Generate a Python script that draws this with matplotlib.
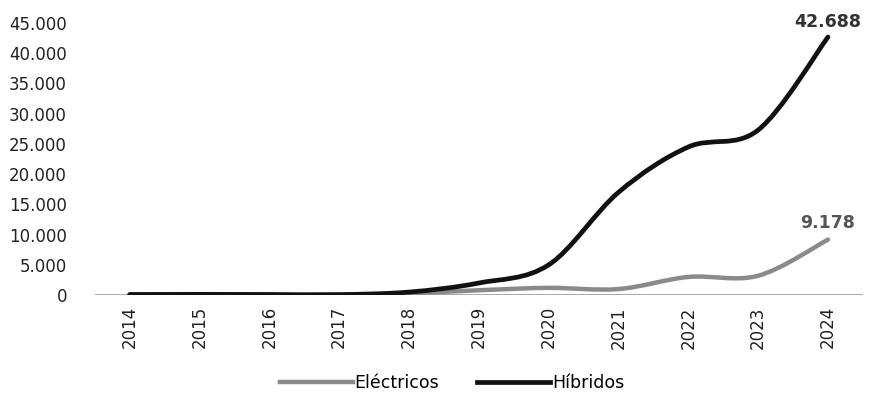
import numpy as np
import matplotlib.pyplot as plt
from matplotlib.path import Path
from matplotlib.patches import PathPatch
from matplotlib.lines import Line2D
from matplotlib.ticker import FuncFormatter

years = [2014, 2015, 2016, 2017, 2018, 2019, 2020, 2021, 2022, 2023, 2024]
electricos = [30, 40, 40, 60, 300, 800, 1200, 1000, 3000, 3200, 9178]
hibridos = [100, 120, 100, 80, 500, 2000, 5000, 17000, 24500, 27300, 42688]


def smooth_path(xs, ys, t=1/6):
    # bezier path through the points, like a smoothed excel line
    xs = np.asarray(xs, float)
    ys = np.asarray(ys, float)
    verts = [(xs[0], ys[0])]
    codes = [Path.MOVETO]
    n = len(xs)
    for i in range(n - 1):
        x0, y0 = (xs[i - 1], ys[i - 1]) if i > 0 else (xs[i], ys[i])
        x3, y3 = (xs[i + 2], ys[i + 2]) if i + 2 < n else (xs[i + 1], ys[i + 1])
        c1 = (xs[i] + (xs[i + 1] - x0) * t, ys[i] + (ys[i + 1] - y0) * t)
        c2 = (xs[i + 1] - (x3 - xs[i]) * t, ys[i + 1] - (y3 - ys[i]) * t)
        verts += [c1, c2, (xs[i + 1], ys[i + 1])]
        codes += [Path.CURVE4] * 3
    return Path(verts, codes)


fig = plt.figure(figsize=(8.69, 4.11), dpi=100)
ax = fig.add_axes([0.109, 0.282, 0.884, 0.662])

ax.axhline(0, color='#9a9a9a', lw=1.2, zorder=1)
ax.add_patch(PathPatch(smooth_path(years, electricos), fill=False,
                       edgecolor='#8a8a8a', lw=3.2, capstyle='round', zorder=2))
ax.add_patch(PathPatch(smooth_path(years, hibridos), fill=False,
                       edgecolor='#111111', lw=3.4, capstyle='round', zorder=3))

ax.text(years[-1], hibridos[-1] + 1000, '42.688', ha='center', va='bottom',
        fontsize=12.5, fontweight='bold', color='#333333')
ax.text(years[-1], electricos[-1] + 1200, '9.178', ha='center', va='bottom',
        fontsize=12.5, fontweight='bold', color='#555555')

ax.set_xlim(2013.5, 2024.5)
ax.set_ylim(0, 45000)
ax.set_xticks(years)
ax.set_xticklabels([str(y) for y in years], rotation=90, fontsize=12, color='#222222')
ax.set_yticks(range(0, 45001, 5000))
ax.yaxis.set_major_formatter(FuncFormatter(lambda v, p: f'{int(v):,}'.replace(',', '.')))
ax.tick_params(axis='y', length=0, pad=20, labelsize=12, labelcolor='#222222')
ax.tick_params(axis='x', length=0, pad=8)
for s in ax.spines.values():
    s.set_visible(False)

handles = [Line2D([], [], color='#8a8a8a', lw=3.2),
           Line2D([], [], color='#111111', lw=3.4)]
fig.legend(handles, ['Eléctricos', 'Híbridos'], loc='center', bbox_to_anchor=(0.52, 0.068),
           ncol=2, frameon=False, fontsize=12.5, handlelength=4.2, handletextpad=0.1,
           columnspacing=2.2)

fig.savefig('out.png', dpi=100)
